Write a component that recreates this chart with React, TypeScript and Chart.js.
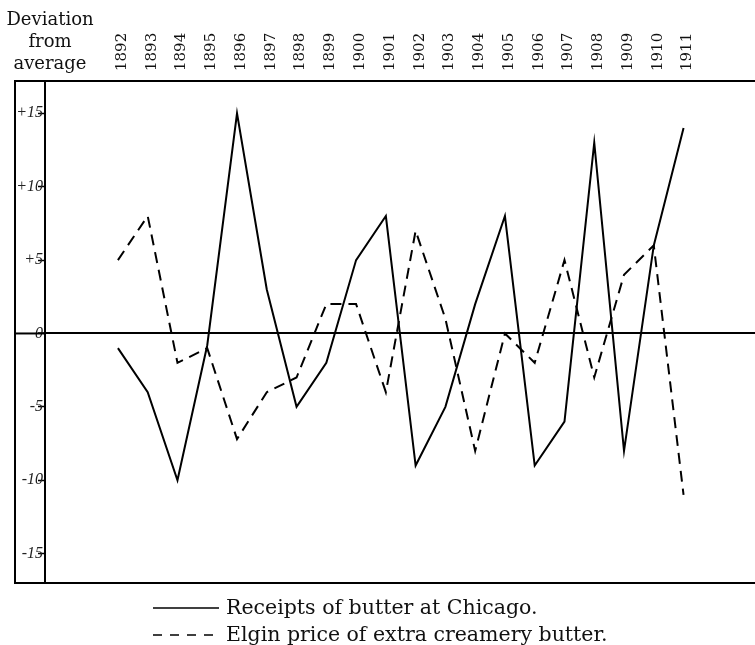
import React, { useEffect, useRef } from "react";
import { Chart, registerables } from "chart.js";

Chart.register(...registerables);

// ---- data ----
const years = [1892, 1893, 1894, 1895, 1896, 1897, 1898, 1899, 1900, 1901, 1902, 1903, 1904, 1905, 1906, 1907, 1908, 1909, 1910, 1911];
const yearLabels = ["1892", "1893", "1894", "1895", "1896", "1897", "1898", "1899", "1900", "1901", "1902", "1903", "1904", "1905", "1906", "1907", "1908", "1909", "1910", "1911"];
const receipts = [-1, -4, -10, -0.8, 15, 3, -5, -2, 5, 8, -9, -5, 2, 8, -9, -6, 13, -8, 6, 14];
const elgin = [5, 8, -2, -1, -7.2, -4, -3, 2, 2, -4, 7, 1, -8, 0, -2, 5, -3, 4, 6, -11];
const yTickValues = [15, 10, 5, 0, -5, -10, -15];
const yTickLabels = ["+15", "+10", "+5", "0", "-5", "-10", "-15"];
const seriesNames = ["Receipts of butter at Chicago.", "Elgin price of extra creamery butter."];
const axisTitle = ["Deviation", "from", "average"];

const FRAME_LEFT = 15;

const framePlugin = {
  id: "frame",
  afterDraw(chart: any) {
    const { ctx, chartArea } = chart;
    const y0 = chart.scales.y.getPixelForValue(0);
    ctx.save();
    ctx.strokeStyle = "#000";
    ctx.lineWidth = 2;
    ctx.beginPath();
    ctx.moveTo(chart.width + 5, chartArea.top);
    ctx.lineTo(FRAME_LEFT, chartArea.top);
    ctx.lineTo(FRAME_LEFT, chartArea.bottom);
    ctx.lineTo(chart.width + 5, chartArea.bottom);
    ctx.stroke();
    ctx.beginPath();
    ctx.moveTo(FRAME_LEFT, y0);
    ctx.lineTo(chartArea.left, y0);
    ctx.stroke();
    ctx.restore();
  },
};

export default function App() {
  const ref = useRef<HTMLCanvasElement | null>(null);

  useEffect(() => {
    if (!ref.current) return;
    const chart = new Chart(ref.current, {
      type: "line",
      data: {
        datasets: [
          {
            label: seriesNames[0],
            data: years.map((x, i) => ({ x, y: receipts[i] })),
            borderColor: "#000",
            borderWidth: 2,
            pointRadius: 0,
            tension: 0,
            fill: false,
          },
          {
            label: seriesNames[1],
            data: years.map((x, i) => ({ x, y: elgin[i] })),
            borderColor: "#000",
            borderWidth: 2,
            borderDash: [11, 7],
            pointRadius: 0,
            tension: 0,
            fill: false,
          },
        ],
      },
      options: {
        responsive: false,
        animation: false,
        layout: { padding: { left: FRAME_LEFT, right: 0, top: 0, bottom: 62 } },
        plugins: { legend: { display: false }, tooltip: { enabled: false } },
        scales: {
          x: {
            type: "linear",
            position: "top",
            min: 1889.55,
            max: 1913.4,
            afterBuildTicks: (s: any) => {
              s.ticks = years.map((v) => ({ value: v }));
            },
            afterFit: (s: any) => {
              s.height = 81;
            },
            ticks: {
              autoSkip: false,
              minRotation: 90,
              maxRotation: 90,
              padding: 10,
              labelOffset: 22,
              color: "#111",
              font: { family: "DejaVu Serif", size: 15 },
              callback: (v: any) => yearLabels[years.indexOf(v)],
            },
            grid: { display: true, drawOnChartArea: false, drawTicks: false },
            border: { display: true, color: "#000", width: 2 },
          },
          y: {
            type: "linear",
            min: -17,
            max: 17.2,
            afterBuildTicks: (s: any) => {
              s.ticks = yTickValues.map((v) => ({ value: v }));
            },
            afterFit: (s: any) => {
              s.width = 30;
            },
            ticks: {
              padding: -5,
              color: "#222",
              font: { family: "Liberation Serif", style: "italic", size: 16 },
              callback: (v: any) => yTickLabels[yTickValues.indexOf(v)],
            },
            grid: {
              color: (c: any) => (c.tick && c.tick.value === 0 ? "#000" : "rgba(0,0,0,0)"),
              lineWidth: (c: any) => (c.tick && c.tick.value === 0 ? 2 : 1),
              tickColor: "#000",
              tickWidth: 1.5,
              tickLength: 7,
            },
            border: { display: true, color: "#000", width: 2 },
          },
        },
      },
      plugins: [framePlugin],
    } as any);
    return () => chart.destroy();
  }, []);

  const serif = "'DejaVu Serif', serif";

  return (
    <div style={{ position: "absolute", left: 0, top: 0, width: 755, height: 645, background: "#fff", overflow: "hidden" }}>
      <canvas ref={ref} width={755} height={645} style={{ position: "absolute", left: 0, top: 0, display: "block" }} />
      <div style={{ position: "absolute", left: 0, top: 8, width: 100, textAlign: "center", fontFamily: serif, fontSize: 18, lineHeight: "22px", color: "#111" }}>
        {axisTitle.map((t) => (
          <div key={t}>{t}</div>
        ))}
      </div>
      <div style={{ position: "absolute", left: 153, top: 594, fontFamily: serif, fontSize: 20.5, lineHeight: "27px", color: "#111", whiteSpace: "nowrap" }}>
        <div style={{ display: "flex", alignItems: "center" }}>
          <svg width={66} height={10} style={{ marginRight: 7 }}>
            <line x1={0} y1={5} x2={66} y2={5} stroke="#000" strokeWidth={1.5} />
          </svg>
          <span>{seriesNames[0]}</span>
        </div>
        <div style={{ display: "flex", alignItems: "center" }}>
          <svg width={66} height={10} style={{ marginRight: 7 }}>
            <line x1={0} y1={5} x2={66} y2={5} stroke="#000" strokeWidth={1.5} strokeDasharray="9 8" />
          </svg>
          <span>{seriesNames[1]}</span>
        </div>
      </div>
    </div>
  );
}
